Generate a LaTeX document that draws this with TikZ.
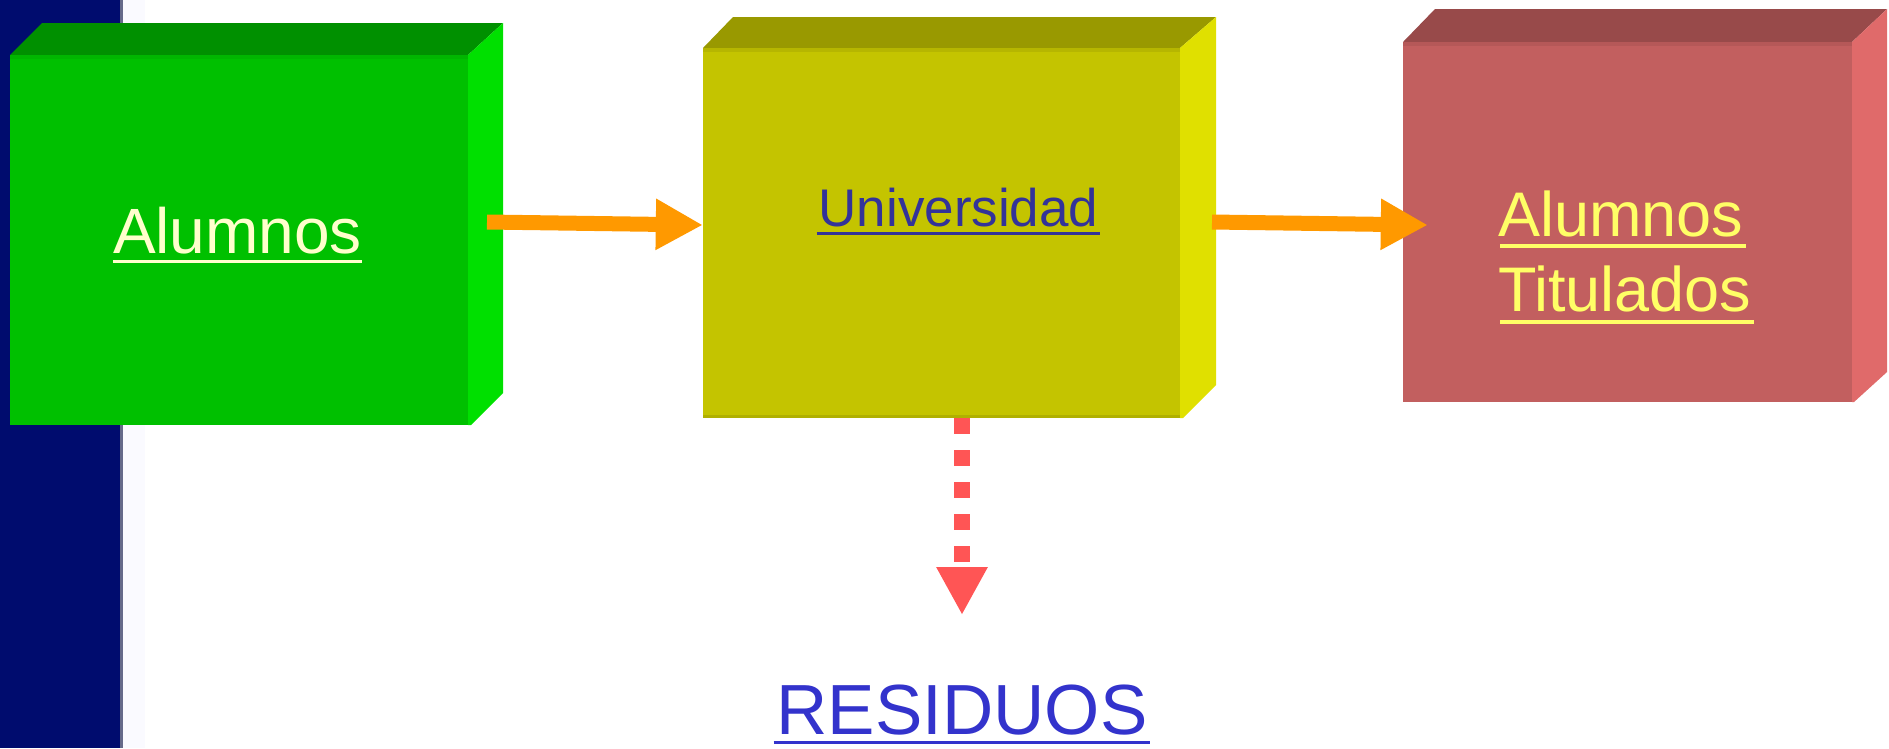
\documentclass[tikz,border=0pt]{standalone}
\usepackage{fontspec}
\setmainfont{Liberation Sans}
\usetikzlibrary{arrows.meta,calc}
\definecolor{navybar}{HTML}{000C6E}
\definecolor{gFront}{HTML}{00C000}
\definecolor{gTop}{HTML}{009000}
\definecolor{gSide}{HTML}{00E000}
\definecolor{yFront}{HTML}{C4C400}
\definecolor{yTop}{HTML}{999900}
\definecolor{ySide}{HTML}{E0E000}
\definecolor{rFront}{HTML}{C25F5F}
\definecolor{rTop}{HTML}{984A4A}
\definecolor{rSide}{HTML}{E06A6A}
\definecolor{flowOrange}{HTML}{FF9900}
\definecolor{wasteRed}{HTML}{FF5555}
\definecolor{uniBlue}{HTML}{333399}
\definecolor{resBlue}{HTML}{3333CC}
\definecolor{creamTxt}{HTML}{FFFFCC}
\definecolor{yellowTxt}{HTML}{FFFF66}
\tikzset{
  facebox/.style={draw=none, inner sep=0pt, rectangle},
  lbl/.style={inner sep=0pt, outer sep=0pt},
  flow/.style={draw=flowOrange, line width=15pt, -{Triangle[length=47pt,width=48pt]}},
  waste/.style={draw=wasteRed, line width=16pt, dash pattern=on 16pt off 16pt, -{Triangle[length=48pt,width=48pt]}},
  uline/.style={line width=3.8pt}
}
\begin{document}
\begin{tikzpicture}[x=1pt,y=-1pt]
\useasboundingbox (0,0) rectangle (1889,748);
\fill[white] (0,0) rectangle (1889,748);
% navy bar
\fill[navybar] (0,0) rectangle (121,748);
\fill[navybar!55!black!60] (120,0) rectangle (123,748);
\fill[blue!2] (123,0) rectangle (145,748);
% ---- Alumnos box
\fill[gTop] (10,55) -- (42,23) -- (503,23) -- (468,55) -- cycle;
\fill[gSide] (468,55) -- (503,23) -- (503,393) -- (471,425) -- (468,425) -- cycle;
\node[facebox, fill=gFront, minimum width=458pt, minimum height=370pt] (alum) at (239,240) {};
\fill[gFront!95!black] (alum.north west) rectangle ($(alum.north east)+(0,4)$);
% ---- Universidad box
\fill[yTop] (703,48) -- (733,17) -- (1216,17) -- (1180,48) -- cycle;
\fill[ySide] (1180,48) -- (1216,17) -- (1216,385) -- (1183,418) -- (1180,418) -- cycle;
\node[facebox, fill=yFront, minimum width=477pt, minimum height=370pt] (univ) at (941.5,233) {};
\fill[yFront!93!black] (univ.north west) rectangle ($(univ.north east)+(0,4)$);
\fill[yFront!90!black] ($(univ.south west)+(0,-3)$) rectangle (univ.south east);
% ---- Alumnos Titulados box
\fill[rTop] (1403,42) -- (1435,9) -- (1887,9) -- (1852,42) -- cycle;
\fill[rSide] (1852,42) -- (1887,9) -- (1887,372) -- (1854,402) -- (1852,402) -- cycle;
\node[facebox, fill=rFront, minimum width=449pt, minimum height=360pt] (titu) at (1627.5,222) {};
\fill[rFront!93!black] (titu.north west) rectangle ($(titu.north east)+(0,4)$);
% ---- texts
\node[lbl, anchor=base, text=creamTxt, font=\fontsize{64}{64}\selectfont] (tAlum) at (237.5,253) {Alumnos};
\draw[uline, creamTxt] ($(tAlum.base west)+(0,8.5)$) -- ($(tAlum.base east)+(0,8.5)$);
\node[lbl, anchor=base, text=uniBlue, font=\fontsize{53}{53}\selectfont] (tUniv) at (958.5,226) {Universidad};
\draw[uline, uniBlue] ($(tUniv.base west)+(-2,7.5)$) -- ($(tUniv.base east)+(2,7.5)$);
\node[lbl, anchor=base west, text=yellowTxt, font=\fontsize{63}{63}\selectfont] (tTit1) at (1498,236) {Alumnos};
\draw[uline, yellowTxt] ($(tTit1.base west)+(2,10)$) -- ($(tTit1.base east)+(3,10)$);
\node[lbl, anchor=base west, text=yellowTxt, font=\fontsize{63}{63}\selectfont] (tTit2) at (1498,311) {Titulados};
\draw[uline, yellowTxt] ($(tTit2.base west)+(2,11)$) -- ($(tTit2.base east)+(3,11)$);
\node[lbl, anchor=base, text depth=0pt, text=resBlue, font=\fontsize{71}{71}\selectfont] (tRes) at (962,734) {RESIDUOS};
\draw[uline, resBlue] ($(tRes.base west)+(-3,8.5)$) -- ($(tRes.base east)+(3,8.5)$);
% ---- connectors
\coordinate (a1s) at (487,222);
\coordinate (a2s) at (1212,222);
\draw[flow] (a1s) -- ($(univ.west)+(0,-8)$);
\draw[flow] (a2s) -- ($(titu.west)+(25,3)$);
\coordinate (wTip) at (962,615);
\draw[waste] (univ.south -| wTip) -- (wTip);
\end{tikzpicture}
\end{document}
